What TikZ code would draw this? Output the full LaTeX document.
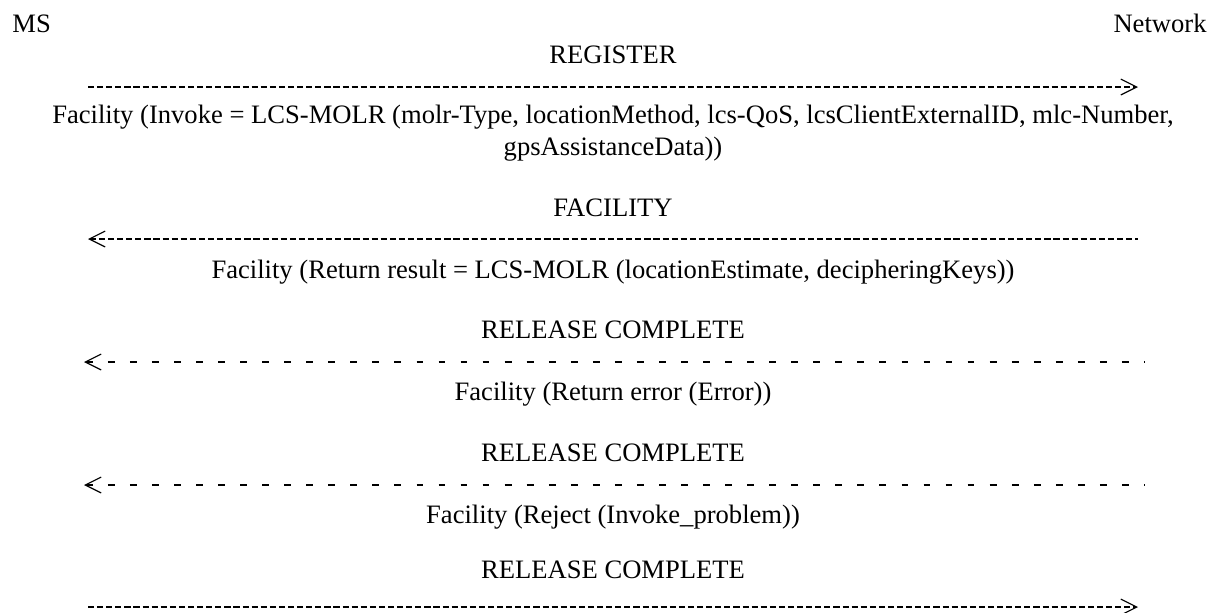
\documentclass[tikz,border=0pt]{standalone}
\usepackage{fontspec}
\setmainfont{Liberation Serif}
\usetikzlibrary{arrows.meta}
\tikzset{barbtip/.tip={Straight Barb[length=7pt,width=7pt,line width=0.5pt]}}
\begin{document}
\begin{tikzpicture}[x=0.44pt,y=-0.44pt,
  lbl/.style={anchor=base,inner sep=0pt,font=\fontsize{11.7}{14}\selectfont},
  msg/.style={line width=0.6pt,dash pattern=on 2.7pt off 1.3pt},
  dmsg/.style={line width=0.6pt,dash pattern=on 3pt off 6.7pt}
]
\useasboundingbox (0,0) rectangle (1220,612);
% parties
\node[lbl,anchor=base west] (ms) at (12,32) {MS};
\node[lbl,anchor=base east] (net) at (1207,32) {Network};
% end points of the messages
\coordinate (a1) at (88,87);  \coordinate (b1) at (1138,87);
\coordinate (a2) at (88,239); \coordinate (b2) at (1138,239);
\coordinate (a3) at (84,362); \coordinate (b3) at (1145,362);
\coordinate (a4) at (84,485); \coordinate (b4) at (1145,485);
\coordinate (a5) at (88,607); \coordinate (b5) at (1138,607);
% labels
\node[lbl] (reg) at (613,63) {REGISTER};
\node[lbl] (inv1) at (613,123) {Facility (Invoke = LCS-MOLR (molr-Type, locationMethod, lcs-QoS, lcsClientExternalID, mlc-Number,};
\node[lbl] (inv2) at (613,155) {gpsAssistanceData))};
\node[lbl] (fac) at (613,216) {FACILITY};
\node[lbl] (res) at (613,278) {Facility (Return result = LCS-MOLR (locationEstimate, decipheringKeys))};
\node[lbl] (rc1) at (613,338) {RELEASE COMPLETE};
\node[lbl] (err) at (613,400) {Facility (Return error (Error))};
\node[lbl] (rc2) at (613,461) {RELEASE COMPLETE};
\node[lbl] (rej) at (613,523) {Facility (Reject (Invoke\_problem))};
\node[lbl] (rc3) at (613,578) {RELEASE COMPLETE};
% messages
\draw[msg,-barbtip] (a1) -- (b1);
\draw[msg,barbtip-] (a2) -- (b2);
\draw[dmsg,barbtip-] (a3) -- (b3);
\draw[dmsg,barbtip-] (a4) -- (b4);
\draw[msg,-barbtip] (a5) -- (b5);
\end{tikzpicture}
\end{document}
